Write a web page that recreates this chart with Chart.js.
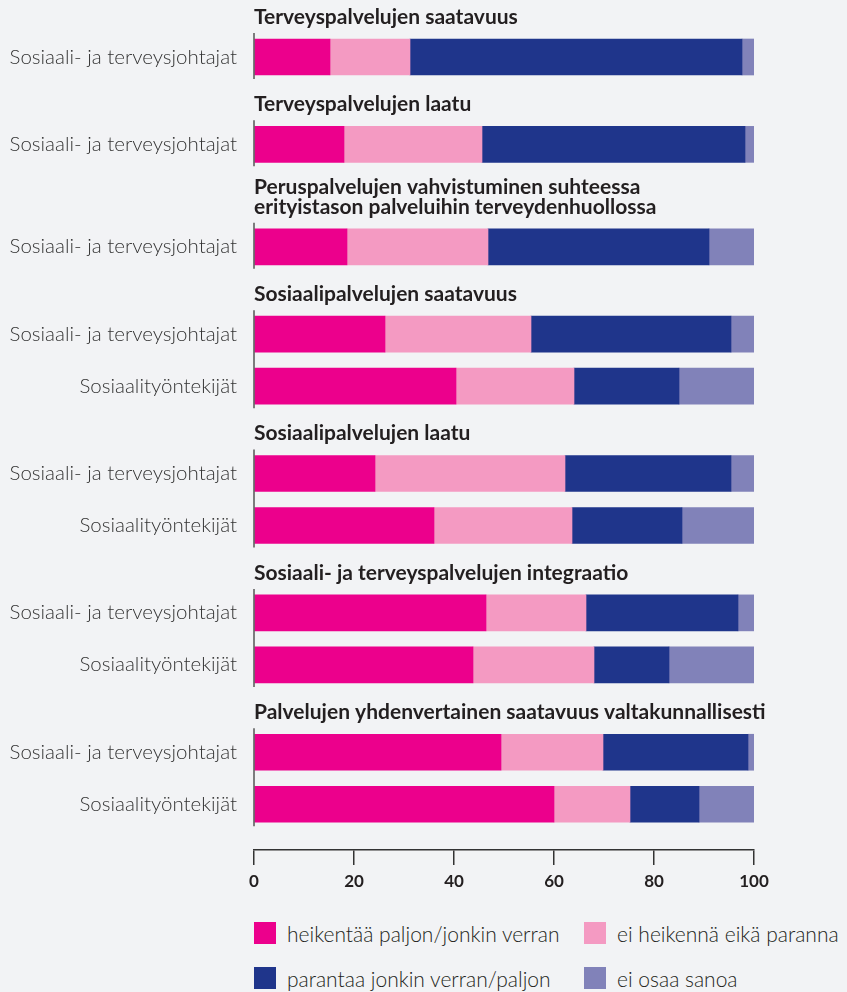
<!DOCTYPE html>
<html>
<head>
<meta charset="utf-8">
<script src="https://cdn.jsdelivr.net/npm/chart.js@4.4.1/dist/chart.umd.min.js"></script>
<style>
    body { margin: 0; background: #f2f3f5; font-family: Lato, sans-serif; }
    #wrap { position: relative; width: 847px; height: 992px; }
    #chartBox { position: absolute; left: 0; top: 0; width: 847px; height: 900px; }
    #legend { position: absolute; left: 254px; top: 922px; width: 593px; display: grid;
              grid-template-columns: 330px 263px; row-gap: 23px; }
    .item { display: flex; align-items: center; height: 22px; font-size: 21px; font-weight: 300; color: #231f20; white-space: nowrap; }
    .swatch { width: 22px; height: 22px; margin-right: 11px; flex: none; }
</style>
</head>
<body>
<div id="wrap">
    <div id="chartBox"><canvas id="impactChart"></canvas></div>
    <div id="legend"></div>
</div>
<script>
// groups of bars and their headings
const groupTitles = [
    ['Terveyspalvelujen saatavuus'],
    ['Terveyspalvelujen laatu'],
    ['Peruspalvelujen vahvistuminen suhteessa', 'erityistason palveluihin terveydenhuollossa'],
    ['Sosiaalipalvelujen saatavuus'],
    ['Sosiaalipalvelujen laatu'],
    ['Sosiaali- ja terveyspalvelujen integraatio'],
    ['Palvelujen yhdenvertainen saatavuus valtakunnallisesti']
];
const barGroup = [0, 1, 2, 3, 3, 4, 4, 5, 5, 6, 6];
const categories = [
    'Sosiaali- ja terveysjohtajat',
    'Sosiaali- ja terveysjohtajat',
    'Sosiaali- ja terveysjohtajat',
    'Sosiaali- ja terveysjohtajat', 'Sosiaalityöntekijät',
    'Sosiaali- ja terveysjohtajat', 'Sosiaalityöntekijät',
    'Sosiaali- ja terveysjohtajat', 'Sosiaalityöntekijät',
    'Sosiaali- ja terveysjohtajat', 'Sosiaalityöntekijät'
];

// % shares
const heikentaa = [15.2, 18.0, 18.6, 26.2, 40.4, 24.2, 36.0, 46.4, 43.8, 49.4, 60.0];
const eiHeikenna = [16.0, 27.6, 28.2, 29.2, 23.6, 38.0, 27.6, 20.0, 24.2, 20.4, 15.2];
const parantaa = [66.4, 52.6, 44.2, 40.0, 21.0, 33.2, 22.0, 30.4, 15.0, 29.0, 13.8];
const eiOsaa = [2.4, 1.8, 9.0, 4.6, 15.0, 4.6, 14.4, 3.2, 17.0, 1.2, 11.0];

const seriesLabels = ['heikentää paljon/jonkin verran', 'ei heikennä eikä paranna',
                      'parantaa jonkin verran/paljon', 'ei osaa sanoa'];
const seriesColors = ['#ec008c', '#f49ac2', '#1f358b', '#8182b9'];
const xTicks = [0, 20, 40, 60, 80, 100];

const TEXT = '#231f20';
const PITCH = 52;       // px per bar row
const BAR = 36;

// row positions: each heading pushes the following bars down
const slots = [];
let pos = 0;
barGroup.forEach((g, i) => {
    if (i > 0) {
        pos += 1;
        if (g !== barGroup[i - 1]) pos += 0.39 + 0.29 * groupTitles[g].length;
    }
    slots.push(pos);
});

const allSeries = [heikentaa, eiHeikenna, parantaa, eiOsaa];

// legend
const legendEl = document.getElementById('legend');
seriesLabels.forEach((label, i) => {
    const item = document.createElement('div');
    item.className = 'item';
    item.innerHTML = '<span class="swatch" style="background:' + seriesColors[i] + '"></span>' + label;
    legendEl.appendChild(item);
});

const groupDecor = {
    id: 'groupDecor',
    afterDatasetsDraw(chart) {
        const ctx = chart.ctx;
        const x0 = chart.scales.x.getPixelForValue(0);
        const y = chart.scales.y;
        ctx.save();
        groupTitles.forEach((lines, g) => {
            const idx = barGroup.map((v, i) => v === g ? i : -1).filter(i => i >= 0);
            const top = y.getPixelForValue(slots[idx[0]]) - BAR / 2;
            const bottom = y.getPixelForValue(slots[idx[idx.length - 1]]) + BAR / 2;

            ctx.strokeStyle = '#555';
            ctx.lineWidth = 1.5;
            ctx.beginPath();
            ctx.moveTo(x0, top - 6);
            ctx.lineTo(x0, bottom + 4);
            ctx.stroke();

            ctx.fillStyle = TEXT;
            ctx.font = 'bold 21px Lato';
            ctx.textAlign = 'left';
            ctx.textBaseline = 'middle';
            lines.forEach((line, k) => {
                ctx.fillText(line, x0, top - 22 - (lines.length - 1 - k) * 20);
            });
        });
        ctx.restore();
    }
};

new Chart(document.getElementById('impactChart'), {
    type: 'bar',
    data: {
        datasets: allSeries.map((s, i) => ({
            label: seriesLabels[i],
            data: s.map((v, j) => ({ x: v, y: slots[j] })),
            backgroundColor: seriesColors[i],
            borderWidth: 0,
            barThickness: BAR
        }))
    },
    options: {
        indexAxis: 'y',
        responsive: true,
        maintainAspectRatio: false,
        animation: false,
        layout: { padding: { left: 0, right: 93, top: 0, bottom: 0 } },
        plugins: { legend: { display: false }, tooltip: { enabled: false } },
        scales: {
            x: {
                type: 'linear',
                stacked: true,
                min: 0,
                max: 100,
                afterBuildTicks: s => { s.ticks = xTicks.map(v => ({ value: v })); },
                afterFit: s => { s.height = 50; },
                grid: { display: true, drawOnChartArea: false, drawTicks: true, tickLength: 15, color: '#333', lineWidth: 1.5 },
                border: { display: true, color: '#333', width: 1.5 },
                ticks: { padding: 6, color: TEXT, font: { family: 'Lato', size: 17, weight: 'bold' } }
            },
            y: {
                type: 'linear',
                stacked: true,
                reverse: true,
                offset: false,
                grid: { display: false, offset: false },
                min: -57 / PITCH,
                max: (850 - 57) / PITCH,
                afterBuildTicks: s => { s.ticks = slots.map(v => ({ value: v })); },
                afterFit: s => { s.width = 254; s.paddingTop = 0; s.paddingBottom = 0; },
                border: { display: false },
                ticks: {
                    padding: 9,
                    color: '#333',
                    font: { family: 'Lato', size: 20.5, weight: 300 },
                    callback: (value, index) => categories[index]
                }
            }
        }
    },
    plugins: [groupDecor]
});
</script>
</body>
</html>
